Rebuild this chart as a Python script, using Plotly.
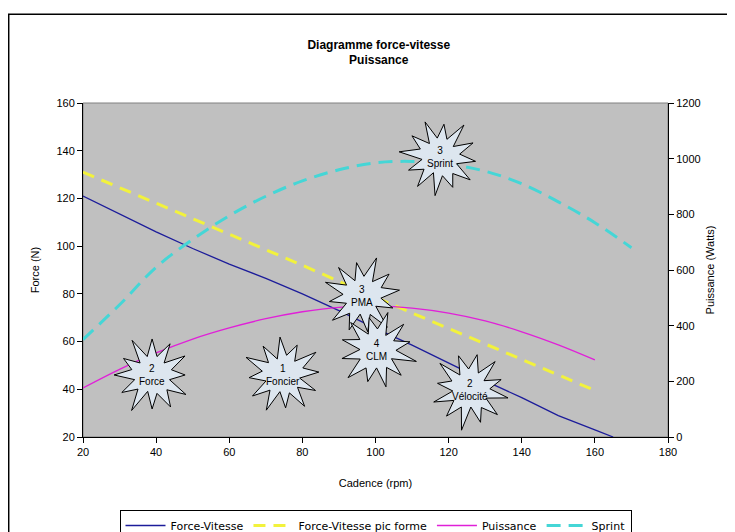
import math
import plotly.graph_objects as go

# ---- data ----
cadence_fv = [20, 30, 40, 50, 60, 70, 80, 90, 100, 110, 120, 130, 140, 150, 160, 165]
force_fv = [121, 113.5, 106, 99, 92.5, 86.5, 80, 73, 65.5, 58.5, 51, 43.5, 36.5, 29, 23, 20]

cadence_pic = [20, 40, 60, 80, 100, 120, 140, 160]
force_pic = [131, 118, 105, 92, 78.5, 65.5, 52.5, 39.5]

cadence_p = [20, 30, 40, 50, 60, 70, 80, 90, 100, 110, 120, 130, 140, 150, 160]
puissance = [176, 243, 302, 352, 392, 425, 450, 466, 470, 463, 445, 417, 378, 331, 277]

cadence_s = [20, 30, 40, 50, 60, 70, 80, 90, 100, 110, 120, 130, 140, 150, 160, 170]
sprint = [350, 475, 610, 710, 795, 865, 920, 960, 985, 990, 980, 955, 910, 845, 770, 680]

zone_labels = ["2<br>Force", "1<br>Foncier", "3<br>PMA", "4<br>CLM", "2<br>Vélocité", "3<br>Sprint"]
zone_cadence = [38.9, 74.7, 96.3, 100.4, 125.8, 117.6]
zone_force = [46, 46, 79, 56.5, 39.7, 137.4]

FONT = "Liberation Sans, Arial, sans-serif"

fig = go.Figure()
fig.add_trace(go.Scatter(x=cadence_fv, y=force_fv, name="Force-Vitesse", mode="lines",
                         line=dict(color="#1c1c9a", width=1.3)))
fig.add_trace(go.Scatter(x=cadence_pic, y=force_pic, name="Force-Vitesse pic forme", mode="lines",
                         line=dict(color="#f2f23c", width=3, dash="12px,8px")))
fig.add_trace(go.Scatter(x=cadence_p, y=puissance, name="Puissance", mode="lines", yaxis="y2",
                         line=dict(color="#e020d8", width=1.3, shape="spline")))
fig.add_trace(go.Scatter(x=cadence_s, y=sprint, name="Sprint", mode="lines", yaxis="y2",
                         line=dict(color="#45d6d6", width=3, dash="14px,8px", shape="spline")))

# starburst shapes (pixel-sized, anchored on data positions)
outer = [36, 40, 33, 38, 35, 41, 34, 37, 39, 33, 38, 36]
inner = [19, 17, 21, 18, 20, 17, 19, 21, 18, 20, 17, 19]


def star_path(k):
    n = 12
    pts = []
    for i in range(n):
        a_o = math.pi / 2 + 2 * math.pi * i / n + 0.08 * k
        a_i = a_o + math.pi / n
        ro = outer[(i + 3 * k) % n]
        ri = inner[(i + 5 * k) % n]
        pts.append((ro * math.cos(a_o), ro * math.sin(a_o)))
        pts.append((ri * math.cos(a_i), ri * math.sin(a_i)))
    s = "M %.1f,%.1f " % pts[0]
    s += " ".join("L %.1f,%.1f" % p for p in pts[1:])
    return s + " Z"


shapes = []
annotations = []
for k, (lab, cx, cy) in enumerate(zip(zone_labels, zone_cadence, zone_force)):
    shapes.append(dict(type="path", xref="x", yref="y", xsizemode="pixel", ysizemode="pixel",
                       xanchor=cx, yanchor=cy, path=star_path(k),
                       fillcolor="#dde6ef", line=dict(color="black", width=1), layer="above"))
    annotations.append(dict(x=cx, y=cy, xref="x", yref="y", text=lab, showarrow=False,
                            font=dict(family=FONT, size=10, color="black")))

# plot-area top/right border and outer chart border
shapes.append(dict(type="rect", xref="paper", yref="paper", x0=0, x1=1, y0=0, y1=1,
                   line=dict(color="#808080", width=1), layer="below"))
shapes.append(dict(type="rect", xref="paper", yref="paper", x0=-0.127, x1=1.2, y0=-0.4, y1=1.266,
                   line=dict(color="black", width=1.5), fillcolor="rgba(0,0,0,0)", layer="below"))

axis_common = dict(showgrid=False, zeroline=False, showline=True, linecolor="black", linewidth=1,
                   ticks="outside", ticklen=5, tickcolor="black", automargin=False,
                   tickfont=dict(family=FONT, size=11, color="black"))

fig.update_layout(
    width=727, height=524,
    margin=dict(l=75, r=67, t=95, b=95, autoexpand=False),
    paper_bgcolor="white", plot_bgcolor="#c0c0c0",
    title=dict(text="<b>Diagramme force-vitesse<br>Puissance</b>", x=0.51, xanchor="center",
               y=0.922, yanchor="middle", font=dict(family=FONT, size=12, color="black")),
    xaxis=dict(range=[20, 180], dtick=20, tick0=20,
               title=dict(text="Cadence (rpm)", standoff=22, font=dict(family=FONT, size=11, color="black")),
               **axis_common),
    yaxis=dict(range=[20, 160], dtick=20, tick0=20,
               title=dict(text="Force (N)", standoff=14, font=dict(family=FONT, size=11, color="black")),
               **axis_common),
    yaxis2=dict(range=[0, 1200], dtick=200, tick0=0, overlaying="y", side="right",
                title=dict(text="Puissance (Watts)", standoff=6, font=dict(family=FONT, size=11, color="black")),
                **axis_common),
    showlegend=True,
    legend=dict(orientation="h", x=0.5, xanchor="center", yref="container", y=0.042, yanchor="top",
                bgcolor="white", bordercolor="black", borderwidth=1,
                font=dict(family="DejaVu Sans, sans-serif", size=11, color="black"), itemwidth=40,
                tracegroupgap=0),
    shapes=shapes,
    annotations=annotations,
)

fig.write_html("out.html")
